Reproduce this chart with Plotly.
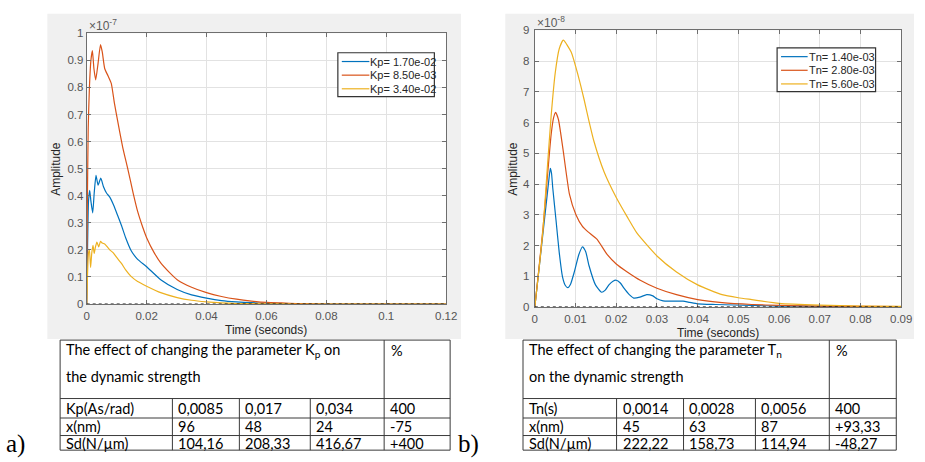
import plotly.graph_objects as go

W, H = 925, 462


def px(x):
    return x / W


def py(y):
    return 1 - y / H


# ---------------- data: panel a) (amplitude in units of 1e-7) ----------------
t_kp_017 = [0, 0.0003, 0.0006, 0.001, 0.0014, 0.002, 0.0025, 0.0031, 0.0038, 0.0047,
            0.0056, 0.0066, 0.0077, 0.009, 0.0104, 0.0116, 0.013, 0.0148, 0.017, 0.02,
            0.0247, 0.0302, 0.035, 0.04, 0.045, 0.05, 0.055, 0.06, 0.07, 0.08, 0.12]
a_kp_017 = [0, 0.22, 0.38, 0.42, 0.38, 0.337, 0.41, 0.475, 0.439, 0.465,
            0.433, 0.41, 0.395, 0.365, 0.325, 0.29, 0.245, 0.198, 0.165, 0.138,
            0.09, 0.054, 0.034, 0.022, 0.013, 0.008, 0.005, 0.003, 0.001, 0, 0]

t_kp_0085 = [0, 0.0002, 0.0005, 0.0009, 0.0014, 0.0019, 0.0024, 0.003, 0.0038, 0.0046,
             0.0052, 0.006, 0.0071, 0.0082, 0.0092, 0.0105, 0.012, 0.0138, 0.0155, 0.017,
             0.0185, 0.02, 0.0225, 0.0247, 0.0275, 0.0302, 0.035, 0.04, 0.045, 0.05,
             0.055, 0.06, 0.065, 0.07, 0.08, 0.12]
a_kp_0085 = [0, 0.35, 0.65, 0.80, 0.90, 0.936, 0.87, 0.828, 0.89, 0.958,
             0.93, 0.87, 0.843, 0.815, 0.745, 0.666, 0.58, 0.495, 0.41, 0.342,
             0.29, 0.245, 0.19, 0.152, 0.118, 0.09, 0.062, 0.042, 0.028, 0.018,
             0.011, 0.006, 0.004, 0.002, 0, 0]

t_kp_034 = [0, 0.0003, 0.0006, 0.0009, 0.0013, 0.0017, 0.0021, 0.0025, 0.0029, 0.0034,
            0.004, 0.0046, 0.0052, 0.006, 0.0068, 0.0077, 0.0088, 0.01, 0.0116, 0.013,
            0.0148, 0.017, 0.02, 0.0247, 0.0302, 0.035, 0.04, 0.045, 0.05, 0.06, 0.07, 0.12]
a_kp_034 = [0, 0.12, 0.19, 0.2, 0.135, 0.19, 0.217, 0.187, 0.21, 0.229,
            0.211, 0.232, 0.225, 0.222, 0.212, 0.2, 0.19, 0.172, 0.15, 0.126,
            0.102, 0.083, 0.066, 0.042, 0.024, 0.014, 0.008, 0.004, 0.002, 0.001, 0, 0]

# ---------------- data: panel b) (amplitude in units of 1e-8) ----------------
t_tn_14 = [0, 0.001, 0.002, 0.003, 0.0035, 0.0038, 0.0041, 0.0044, 0.0052, 0.006,
           0.0068, 0.0075, 0.0081, 0.0088, 0.0097, 0.0108, 0.0117, 0.0125, 0.0133, 0.0149,
           0.0164, 0.0173, 0.0182, 0.0192, 0.02, 0.021, 0.0219, 0.0232, 0.0243, 0.0258,
           0.0275, 0.029, 0.03, 0.0315, 0.0331, 0.0364, 0.038, 0.04, 0.0444, 0.0533,
           0.06, 0.07, 0.08, 0.09]
a_tn_14 = [0, 1.2, 2.4, 3.6, 4.2, 4.51, 4.35, 3.88, 2.83, 1.77,
           0.98, 0.7, 0.63, 0.75, 1.14, 1.7, 1.96, 1.8, 1.35, 0.72,
           0.48, 0.55, 0.72, 0.84, 0.87, 0.78, 0.61, 0.4, 0.29, 0.32,
           0.4, 0.36, 0.27, 0.2, 0.19, 0.19, 0.15, 0.1, 0.08, 0.05,
           0.03, 0.02, 0.01, 0.005]

t_tn_28 = [0, 0.001, 0.002, 0.003, 0.004, 0.0046, 0.0051, 0.0058, 0.0069, 0.0085,
           0.0101, 0.0117, 0.013, 0.0153, 0.0178, 0.02, 0.0227, 0.0259, 0.03, 0.0348,
           0.04, 0.046, 0.0533, 0.06, 0.07, 0.08, 0.09]
a_tn_28 = [0, 1.25, 2.55, 4.1, 5.6, 6.15, 6.33, 6.1, 5.15, 3.67,
           3.0, 2.62, 2.45, 2.2, 1.7, 1.4, 1.14, 0.87, 0.61, 0.4,
           0.24, 0.14, 0.08, 0.05, 0.03, 0.02, 0.01]

t_tn_56 = [0, 0.001, 0.002, 0.003, 0.004, 0.005, 0.006, 0.007, 0.0089, 0.0109,
           0.0121, 0.0133, 0.0145, 0.017, 0.02, 0.0227, 0.0251, 0.03, 0.0348, 0.04,
           0.046, 0.05, 0.0533, 0.06, 0.07, 0.08, 0.09]
a_tn_56 = [0, 1.2, 2.5, 4.4, 6.2, 7.6, 8.4, 8.68, 8.3, 7.4,
           6.75, 6.05, 5.4, 4.4, 3.56, 2.93, 2.4, 1.66, 1.14, 0.72,
           0.4, 0.3, 0.24, 0.12, 0.06, 0.03, 0.02]

# tick labels
xt_a = [0, 0.02, 0.04, 0.06, 0.08, 0.1, 0.12]
xt_a_txt = ["0", "0.02", "0.04", "0.06", "0.08", "0.1", "0.12"]
yt_a = [0, 0.1, 0.2, 0.3, 0.4, 0.5, 0.6, 0.7, 0.8, 0.9, 1]
yt_a_txt = ["0", "0.1", "0.2", "0.3", "0.4", "0.5", "0.6", "0.7", "0.8", "0.9", "1"]
xt_b = [0, 0.01, 0.02, 0.03, 0.04, 0.05, 0.06, 0.07, 0.08, 0.09]
xt_b_txt = ["0", "0.01", "0.02", "0.03", "0.04", "0.05", "0.06", "0.07", "0.08", "0.09"]
yt_b = [0, 1, 2, 3, 4, 5, 6, 7, 8, 9]
yt_b_txt = ["0", "1", "2", "3", "4", "5", "6", "7", "8", "9"]

names_a = ["Kp= 1.70e-02", "Kp= 8.50e-03", "Kp= 3.40e-02"]
names_b = ["Tn= 1.40e-03", "Tn= 2.80e-03", "Tn= 5.60e-03"]

# tables
tab_a_header = ["The effect of changing the parameter K<sub>p</sub> on", "the dynamic strength"]
tab_a_rows = [["Kp(As/rad)", "0,0085", "0,017", "0,034", "400"],
              ["x(nm)", "96", "48", "24", "-75"],
              ["Sd(N/µm)", "104,16", "208,33", "416,67", "+400"]]
tab_b_header = ["The effect of changing the parameter T<sub>n</sub>", "on the dynamic strength"]
tab_b_rows = [["Tn(s)", "0,0014", "0,0028", "0,0056", "400"],
              ["x(nm)", "45", "63", "87", "+93,33"],
              ["Sd(N/µm)", "222,22", "158,73", "114,94", "-48,27"]]

colors = ["#0072BD", "#D95319", "#EDB120"]

fig = go.Figure()

for t, a, n, c in zip([t_kp_017, t_kp_0085, t_kp_034], [a_kp_017, a_kp_0085, a_kp_034], names_a, colors):
    fig.add_trace(go.Scatter(x=t, y=a, name=n, mode="lines", showlegend=False,
                             line=dict(color=c, width=1.2, shape="spline", smoothing=0.5),
                             xaxis="x", yaxis="y"))

for t, a, n, c in zip([t_tn_14, t_tn_28, t_tn_56], [a_tn_14, a_tn_28, a_tn_56], names_b, colors):
    fig.add_trace(go.Scatter(x=t, y=a, name=n, mode="lines", showlegend=False,
                             line=dict(color=c, width=1.2, shape="spline", smoothing=0.5),
                             xaxis="x2", yaxis="y2"))

tickfont = dict(family="Liberation Sans, Arial, sans-serif", size=11.5, color="#555555")
axis_common = dict(showgrid=True, gridcolor="#e2e2e2", gridwidth=1, showline=True,
                   linecolor="#6e6e6e", linewidth=1, mirror="ticks", ticks="inside",
                   ticklen=4, tickcolor="#6e6e6e", zeroline=False, tickfont=tickfont,
                   fixedrange=True)

AX_A = dict(l=85, r=450, t=28, b=306)
AX_B = dict(l=540, r=912, t=25, b=309)

fig.update_layout(
    width=W, height=H,
    margin=dict(l=0, r=0, t=0, b=0),
    paper_bgcolor="white", plot_bgcolor="white",
    xaxis=dict(domain=[px(AX_A["l"]), px(AX_A["r"])], range=[0, 0.12], tickvals=xt_a, ticktext=xt_a_txt,
               anchor="y", ticklabelstandoff=1, **axis_common),
    yaxis=dict(domain=[py(AX_A["b"]), py(AX_A["t"])], range=[0, 1], tickvals=yt_a, ticktext=yt_a_txt,
               anchor="x", **axis_common),
    xaxis2=dict(domain=[px(AX_B["l"]), px(AX_B["r"])], range=[0, 0.09], tickvals=xt_b, ticktext=xt_b_txt,
                anchor="y2", ticklabelstandoff=1, **axis_common),
    yaxis2=dict(domain=[py(AX_B["b"]), py(AX_B["t"])], range=[0, 9], tickvals=yt_b, ticktext=yt_b_txt,
                anchor="x2", ticklabelstandoff=2, **axis_common),
)

shapes = []
# grey MATLAB figure panels
shapes.append(dict(type="rect", xref="paper", yref="paper", x0=px(45), x1=px(465), y0=py(342), y1=py(8),
                   fillcolor="#f0f0f0", line=dict(width=0), layer="below"))
shapes.append(dict(type="rect", xref="paper", yref="paper", x0=px(510), x1=px(925), y0=py(342), y1=py(8),
                   fillcolor="#f0f0f0", line=dict(width=0), layer="below"))
# white axes backgrounds
for ax in (AX_A, AX_B):
    shapes.append(dict(type="rect", xref="paper", yref="paper", x0=px(ax["l"]), x1=px(ax["r"]),
                       y0=py(ax["b"]), y1=py(ax["t"]), fillcolor="white", line=dict(width=0), layer="below"))
# dotted zero reference lines
shapes.append(dict(type="line", xref="x", yref="y", x0=0, x1=0.12, y0=0, y1=0,
                   line=dict(color="black", width=1, dash="dot")))
shapes.append(dict(type="line", xref="x2", yref="y2", x0=0, x1=0.09, y0=0, y1=0,
                   line=dict(color="black", width=1, dash="dot")))

annotations = []
lab_font = dict(family="Liberation Sans, Arial, sans-serif", size=12, color="#262626")
exp_font = dict(family="Liberation Sans, Arial, sans-serif", size=12, color="#5a5a5a")
leg_font = dict(family="Liberation Sans, Arial, sans-serif", size=11, color="#262626")
annotations += [
    dict(x=px(53), y=py(167), text="Amplitude", textangle=-90, font=lab_font, showarrow=False,
         xref="paper", yref="paper", xanchor="center", yanchor="middle"),
    dict(x=px(517), y=py(167), text="Amplitude", textangle=-90, font=lab_font, showarrow=False,
         xref="paper", yref="paper", xanchor="center", yanchor="middle"),
    dict(x=px(267), y=py(333), text="Time (seconds)", font=lab_font, showarrow=False,
         xref="paper", yref="paper", xanchor="center", yanchor="middle"),
    dict(x=px(726), y=py(336), text="Time (seconds)", font=lab_font, showarrow=False,
         xref="paper", yref="paper", xanchor="center", yanchor="middle"),
    dict(x=px(85), y=py(19), text="×10<sup>-7</sup>", font=exp_font, showarrow=False,
         xref="paper", yref="paper", xanchor="left", yanchor="middle"),
    dict(x=px(540), y=py(16), text="×10<sup>-8</sup>", font=exp_font, showarrow=False,
         xref="paper", yref="paper", xanchor="left", yanchor="middle"),
]


# MATLAB-style legend boxes
def add_legend(box, line_x, text_x, ys, names):
    shapes.append(dict(type="rect", xref="paper", yref="paper", x0=px(box[0]), x1=px(box[1]),
                       y0=py(box[3]), y1=py(box[2]), fillcolor="white",
                       line=dict(color="#333333", width=1.2)))
    for yy, n, c in zip(ys, names, colors):
        shapes.append(dict(type="line", xref="paper", yref="paper", x0=px(line_x[0]), x1=px(line_x[1]),
                           y0=py(yy), y1=py(yy), line=dict(color=c, width=1.2)))
        annotations.append(dict(x=px(text_x), y=py(yy), text=n, font=leg_font, showarrow=False,
                                xref="paper", yref="paper", xanchor="left", yanchor="middle"))


add_legend((340, 438, 48, 93), (344, 372), 371, [57, 71, 85], names_a)
add_legend((786, 886, 43, 88), (790, 817), 816, [52, 66, 80], names_b)

# tables
tab_font = dict(family="Lato, Noto Sans, sans-serif", size=14.5, color="black")
line_style = dict(color="#3a3a3a", width=1)
row_y = [413, 432, 449]


def add_table(cols, header, rows):
    x_left, x_right = cols[0], cols[-1]
    top, head_bot, bot = 343, 403, 456
    hlines = [top, head_bot, 423, 441, bot]
    for yy in hlines:
        shapes.append(dict(type="line", xref="paper", yref="paper", x0=px(x_left), x1=px(x_right),
                           y0=py(yy), y1=py(yy), line=line_style))
    for i, xx in enumerate(cols):
        y_start = top if i in (0, len(cols) - 2, len(cols) - 1) else head_bot
        shapes.append(dict(type="line", xref="paper", yref="paper", x0=px(xx), x1=px(xx),
                           y0=py(y_start), y1=py(bot), line=line_style))
    annotations.append(dict(x=px(x_left + 4), y=py(354), text=header[0], font=tab_font, showarrow=False,
                            xref="paper", yref="paper", xanchor="left", yanchor="middle"))
    annotations.append(dict(x=px(x_left + 4), y=py(380), text=header[1], font=tab_font, showarrow=False,
                            xref="paper", yref="paper", xanchor="left", yanchor="middle"))
    annotations.append(dict(x=px(cols[-2] + 5), y=py(354), text="%", font=tab_font, showarrow=False,
                            xref="paper", yref="paper", xanchor="left", yanchor="middle"))
    for r, yy in zip(rows, row_y):
        for j, txt in enumerate(r):
            annotations.append(dict(x=px(cols[j] + 4), y=py(yy), text=txt, font=tab_font, showarrow=False,
                                    xref="paper", yref="paper", xanchor="left", yanchor="middle"))


add_table([58, 172, 240, 312, 387, 454], tab_a_header, tab_a_rows)
add_table([528, 623, 691, 764, 839, 907], tab_b_header, tab_b_rows)

serif = dict(family="Liberation Serif, Times New Roman, serif", size=25, color="black")
annotations.append(dict(x=px(1), y=py(450), text="a)", font=serif, showarrow=False,
                        xref="paper", yref="paper", xanchor="left", yanchor="middle"))
annotations.append(dict(x=px(460), y=py(450), text="b)", font=serif, showarrow=False,
                        xref="paper", yref="paper", xanchor="left", yanchor="middle"))

fig.update_layout(shapes=shapes, annotations=annotations)
fig.write_html("out.html")
